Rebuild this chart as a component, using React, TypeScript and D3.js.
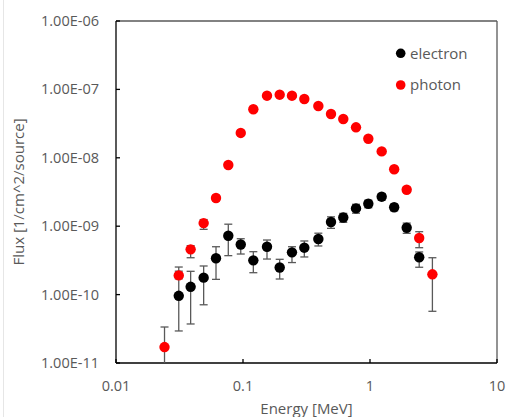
import React from "react";
import * as d3 from "d3";

const energy = [0.0241, 0.0312, 0.0387, 0.049, 0.0613, 0.0766, 0.096, 0.1206, 0.1545, 0.1945, 0.243, 0.304, 0.392, 0.493, 0.616, 0.776, 0.97, 1.236, 1.55, 1.945, 2.44, 3.1];

const photonFlux = [1.71e-11, 1.91e-10, 4.59e-10, 1.11e-9, 2.58e-9, 7.85e-9, 2.31e-8, 5.12e-8, 8.09e-8, 8.37e-8, 8.09e-8, 7.24e-8, 5.72e-8, 4.37e-8, 3.69e-8, 2.79e-8, 1.9e-8, 1.24e-8, 6.79e-9, 3.41e-9, 6.73e-10, 1.98e-10];
const photonHigh = [3.36e-11, 2.2e-10, 5.2e-10, 1.25e-9, 2.8e-9, 8.3e-9, 2.4e-8, 5.3e-8, 8.3e-8, 8.6e-8, 8.3e-8, 7.4e-8, 5.85e-8, 4.5e-8, 3.8e-8, 2.9e-8, 1.98e-8, 1.3e-8, 7.2e-9, 3.7e-9, 8.31e-10, 3.46e-10];
const photonLow = [1e-13, 1.7e-10, 3.46e-10, 9.0e-10, 2.36e-9, 7.4e-9, 2.22e-8, 4.94e-8, 7.9e-8, 8.14e-8, 7.88e-8, 7.08e-8, 5.59e-8, 4.24e-8, 3.58e-8, 2.69e-8, 1.82e-8, 1.18e-8, 6.4e-9, 3.13e-9, 4.85e-10, 5.7e-11];

const electronEnergy = energy.slice(1, 21);
const electronFlux = [9.6e-11, 1.3e-10, 1.77e-10, 3.4e-10, 7.24e-10, 5.4e-10, 3.17e-10, 5.0e-10, 2.49e-10, 4.15e-10, 4.85e-10, 6.5e-10, 1.15e-9, 1.34e-9, 1.82e-9, 2.13e-9, 2.7e-9, 1.89e-9, 9.5e-10, 3.52e-10];
const electronHigh = [2.53e-10, 2.19e-10, 2.62e-10, 5.01e-10, 1.07e-9, 6.56e-10, 4.24e-10, 6.28e-10, 3.28e-10, 5.01e-10, 6.08e-10, 7.9e-10, 1.37e-9, 1.54e-9, 2.09e-9, 2.4e-9, 3.0e-9, 2.1e-9, 1.11e-9, 4.2e-10];
const electronLow = [2.94e-11, 3.72e-11, 7.1e-11, 1.67e-10, 3.71e-10, 3.92e-10, 2.09e-10, 3.31e-10, 1.69e-10, 2.94e-10, 3.55e-10, 5.14e-10, 9.3e-10, 1.14e-9, 1.55e-9, 1.86e-9, 2.4e-9, 1.68e-9, 7.87e-10, 2.51e-10];

const yTicks = [1e-11, 1e-10, 1e-9, 1e-8, 1e-7, 1e-6];
const yTickLabels = ["1.00E-11", "1.00E-10", "1.00E-09", "1.00E-08", "1.00E-07", "1.00E-06"];
const xTicks = [0.01, 0.1, 1, 10];
const xTickLabels = ["0.01", "0.1", "1", "10"];
const seriesNames = ["electron", "photon"];
const seriesColors = ["#000000", "#ff0000"];

const W = 506, H = 417;
const L = 116, R = 497, T = 21, B = 363;
const FONT = "'Open Sans', sans-serif";
const TXT = "#595959";

export default function App() {
  const x = d3.scaleLog().domain([0.01, 10]).range([L, R]);
  const y = d3.scaleLog().domain([1e-11, 1e-6]).range([B, T]);
  const cap = 4;
  const r = 5.2;

  const errBars = (xs: number[], lo: number[], hi: number[], key: string) =>
    xs.map((e, i) => {
      const px = x(e);
      const y1 = y(hi[i]);
      const y0 = y(lo[i]);
      return (
        <g key={key + i} stroke="#595959" strokeWidth={1.3}>
          <line x1={px} x2={px} y1={y1} y2={y0} />
          <line x1={px - cap} x2={px + cap} y1={y1} y2={y1} />
          <line x1={px - cap} x2={px + cap} y1={y0} y2={y0} />
        </g>
      );
    });

  return (
    <svg width={W} height={H} style={{ position: "absolute", left: 0, top: 0, background: "#fff" }}>
      <defs>
        <clipPath id="plot">
          <rect x={L} y={T - 10} width={R - L} height={B - T + 10} />
        </clipPath>
      </defs>
      <rect x={0} y={0} width={W} height={H} fill="#fff" />
      <line x1={3.5} x2={3.5} y1={0} y2={H} stroke="#e6e6e6" />
      <line x1={L} x2={R} y1={T} y2={T} stroke="#595959" strokeWidth={1.3} />
      <line x1={R} x2={R} y1={T} y2={B} stroke="#595959" strokeWidth={1.3} />
      <line x1={L} x2={L} y1={T} y2={B} stroke="#000" strokeWidth={1.3} />
      <line x1={L} x2={R} y1={B} y2={B} stroke="#000" strokeWidth={1.3} />
      {yTicks.map((t, i) => (
        <g key={"yt" + i}>
          <line x1={L} x2={L + 4} y1={y(t)} y2={y(t)} stroke="#000" strokeWidth={1.3} />
          <text x={99} y={y(t)} dy="0.35em" textAnchor="end" fontFamily={FONT} fontSize={14.5} fill={TXT}>
            {yTickLabels[i]}
          </text>
        </g>
      ))}
      {xTicks.map((t, i) => (
        <g key={"xt" + i}>
          <line x1={x(t)} x2={x(t)} y1={B} y2={B - 4} stroke="#000" strokeWidth={1.3} />
          <text x={x(t)} y={391} textAnchor="middle" fontFamily={FONT} fontSize={14.5} fill={TXT}>
            {xTickLabels[i]}
          </text>
        </g>
      ))}
      <g clipPath="url(#plot)">
        {errBars(electronEnergy, electronLow, electronHigh, "ee")}
        {electronEnergy.map((e, i) => (
          <circle key={"e" + i} cx={x(e)} cy={y(electronFlux[i])} r={r} fill={seriesColors[0]} />
        ))}
        {errBars(energy, photonLow, photonHigh, "pe")}
        {energy.map((e, i) => (
          <circle key={"p" + i} cx={x(e)} cy={y(photonFlux[i])} r={r} fill={seriesColors[1]} />
        ))}
      </g>
      {seriesNames.map((n, i) => (
        <g key={"lg" + i}>
          <circle cx={400.7} cy={53.3 + i * 31.7} r={4.8} fill={seriesColors[i]} />
          <text x={410} y={53.3 + i * 31.7} dy="0.35em" fontFamily={FONT} fontSize={15} fill={TXT}>
            {n}
          </text>
        </g>
      ))}
      <text x={(L + R) / 2} y={414} textAnchor="middle" fontFamily={FONT} fontSize={15} fill={TXT}>
        Energy [MeV]
      </text>
      <text
        transform={`translate(24, ${(T + B) / 2}) rotate(-90)`}
        textAnchor="middle"
        fontFamily={FONT}
        fontSize={15}
        fill={TXT}
      >
        Flux [1/cm^2/source]
      </text>
    </svg>
  );
}
